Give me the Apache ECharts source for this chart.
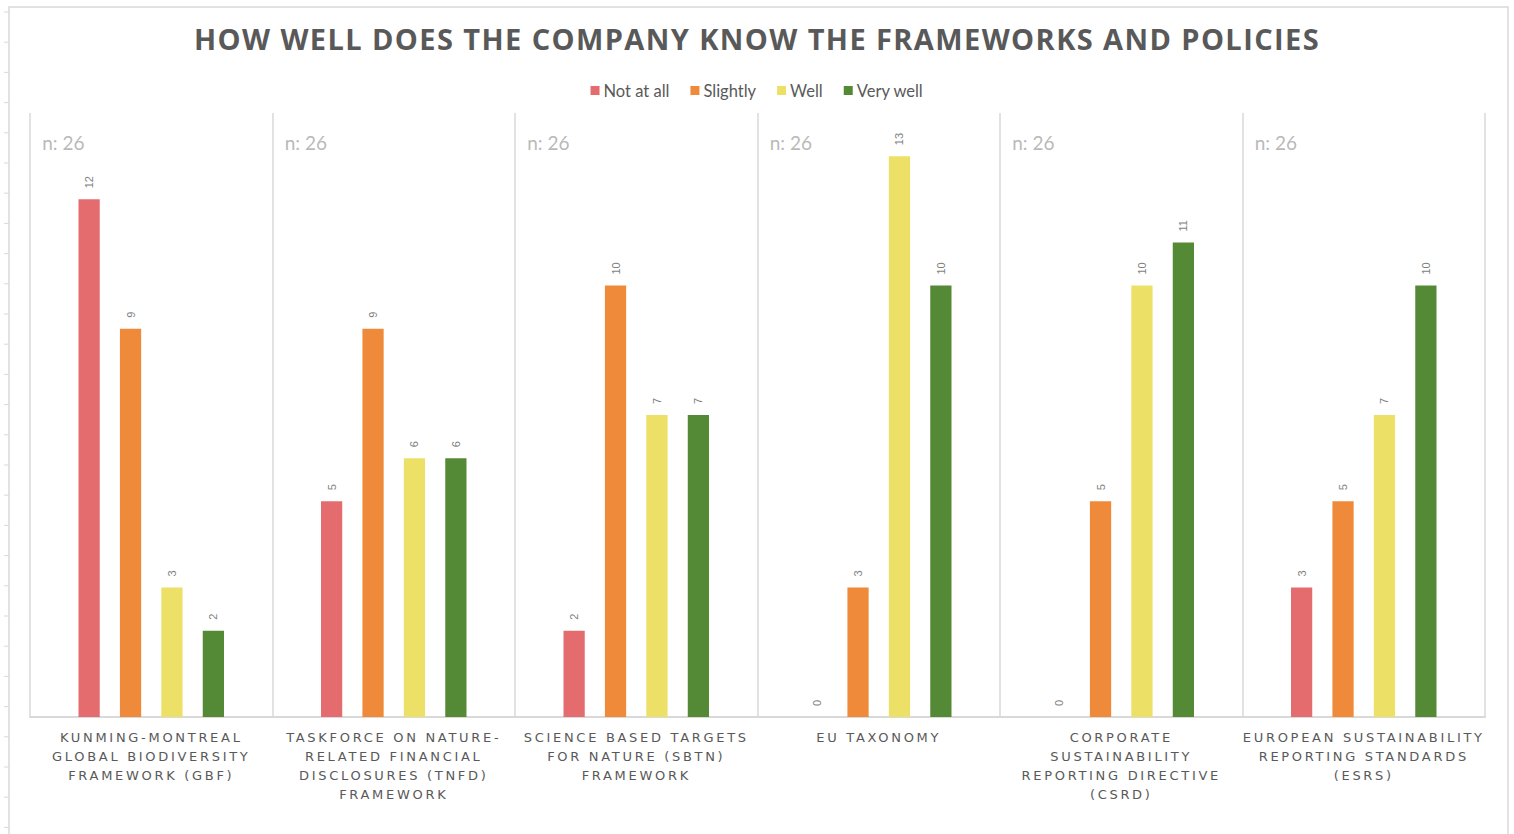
<!DOCTYPE html>
<html>
<head>
<meta charset="utf-8">
<script src="https://cdn.jsdelivr.net/npm/echarts@6/dist/echarts.min.js"></script>
<style>
html,body{margin:0;padding:0;background:#fff;}
#chart{width:1514px;height:834px;}
#chart text[style*="DejaVu Sans"]{letter-spacing:2.7px;}
#chart text[style*="Open Sans"]{letter-spacing:1.4px;}
</style>
</head>
<body>
<div id="chart"></div>
<script>
const titleText = 'HOW WELL DOES THE COMPANY KNOW THE FRAMEWORKS AND POLICIES';
const categories = [
  'KUNMING-MONTREAL\nGLOBAL BIODIVERSITY\nFRAMEWORK (GBF)',
  'TASKFORCE ON NATURE-\nRELATED FINANCIAL\nDISCLOSURES (TNFD)\nFRAMEWORK',
  'SCIENCE BASED TARGETS\nFOR NATURE (SBTN)\nFRAMEWORK',
  'EU TAXONOMY',
  'CORPORATE\nSUSTAINABILITY\nREPORTING DIRECTIVE\n(CSRD)',
  'EUROPEAN SUSTAINABILITY\nREPORTING STANDARDS\n(ESRS)'
];
const seriesNames = ['Not at all', 'Slightly', 'Well', 'Very well'];
const notAtAll = [12, 5, 2, 0, 0, 3];
const slightly = [9, 9, 10, 3, 5, 5];
const well = [3, 6, 7, 13, 10, 7];
const veryWell = [2, 6, 7, 10, 11, 10];
const respondents = [26, 26, 26, 26, 26, 26];
const colors = ['#E46C6E', '#EF8A3A', '#ECE066', '#548935'];

const chart = echarts.init(document.getElementById('chart'), null, { renderer: 'svg' });
const valueSets = [notAtAll, slightly, well, veryWell];

const barSeries = seriesNames.map((name, i) => ({
  name: name,
  type: 'bar',
  data: valueSets[i],
  barGap: '95%',
  barCategoryGap: '40%',
  itemStyle: { color: colors[i] },
  label: {
    show: true,
    position: 'top',
    rotate: 90,
    align: 'left',
    verticalAlign: 'middle',
    distance: 11,
    color: '#7f7f7f',
    fontSize: 11,
    fontFamily: 'Liberation Sans'
  }
}));

// "n: 26" annotations near top of each category panel
const nSeries = {
  name: 'n',
  type: 'scatter',
  symbolSize: 0,
  silent: true,
  data: respondents.map(() => 13.35),
  label: {
    show: true,
    position: 'inside',
    formatter: p => 'n: ' + respondents[p.dataIndex],
    offset: [-109, 1],
    align: 'left',
    color: '#a6a6a6',
    fontSize: 19,
    fontFamily: 'Lato'
  }
};

// decorative spreadsheet frame and row ticks on the left edge
const ticks = [];
for (let y = 12; y < 834; y += 30.2) {
  ticks.push({ type: 'line', shape: { x1: 4, y1: y, x2: 9, y2: y }, style: { stroke: '#d9d9d9', lineWidth: 1 }, silent: true });
}

chart.setOption({
  animation: false,
  color: colors,
  title: {
    text: titleText,
    left: 'center',
    top: 19,
    textStyle: { fontFamily: 'Open Sans', fontWeight: 'bold', fontSize: 29, color: '#595959' }
  },
  legend: {
    data: seriesNames,
    top: 77,
    left: 'center',
    itemWidth: 9,
    itemHeight: 9,
    itemGap: 21,
    icon: 'rect',
    textStyle: { fontFamily: 'Lato', fontSize: 16.5, color: '#595959', padding: [0, 0, 0, -1] }
  },
  grid: { left: 30, right: 29, top: 113, bottom: 117, containLabel: false },
  xAxis: {
    type: 'category',
    data: categories,
    axisLine: { show: true, lineStyle: { color: '#d9d9d9', width: 2 } },
    axisTick: { show: false },
    splitLine: { show: true, interval: 0, lineStyle: { color: '#d9d9d9', width: 1.5 } },
    axisLabel: {
      interval: 0,
      margin: 11,
      color: '#595959',
      fontSize: 13,
      lineHeight: 19,
      fontFamily: 'DejaVu Sans'
    }
  },
  yAxis: {
    type: 'value',
    min: 0,
    max: 14,
    show: false,
    splitLine: { show: false }
  },
  graphic: [
    { type: 'rect', shape: { x: 9, y: 7, width: 1499, height: 830 }, style: { fill: 'none', stroke: '#d9d9d9', lineWidth: 1.5 }, silent: true, z: -1 }
  ].concat(ticks),
  series: barSeries.concat([nSeries])
});
</script>
</body>
</html>
